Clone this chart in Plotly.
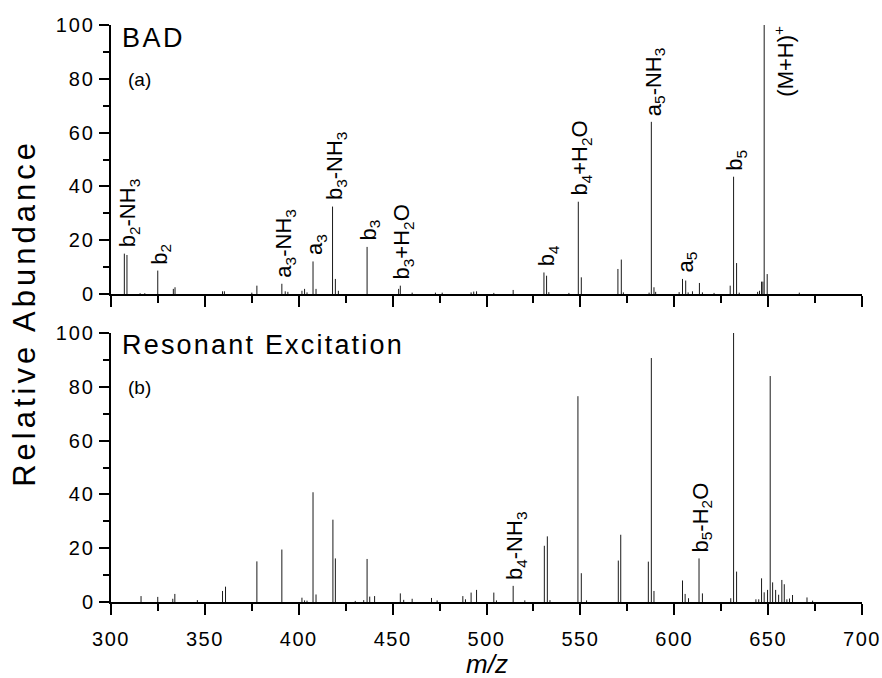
import plotly.graph_objects as go

# ---------------- data ----------------
# Panel (a): BAD spectrum  (m/z, relative abundance)
bad_mz = [307.1, 308.5, 315.5, 318.0, 324.9, 333.2, 334.1, 359.4, 360.4, 375.0,
          377.7, 391.0, 392.8, 394.2, 401.7, 403.1, 404.4, 407.6, 409.2, 418.0,
          419.5, 421.1, 436.4, 453.2, 454.1, 460.4, 472.8, 476.4, 491.8, 493.2,
          494.7, 503.9, 514.2, 530.6, 532.0, 533.2, 543.9, 548.9, 550.5, 570.0,
          571.8, 572.9, 586.6, 587.8, 589.2, 590.1, 602.6, 604.4, 606.1, 607.4,
          609.7, 613.4, 615.0, 621.2, 629.8, 631.6, 633.2, 634.6, 644.4, 645.4,
          646.5, 647.2, 647.9, 649.5, 666.6]
bad_int = [15.0, 14.5, 0.3, 0.3, 8.7, 1.9, 2.5, 1.0, 1.0, 0.5,
           3.1, 3.8, 1.0, 0.8, 1.2, 1.9, 0.6, 12.1, 1.9, 32.5,
           5.6, 1.2, 17.5, 1.9, 3.1, 0.5, 0.5, 0.5, 0.6, 0.9,
           1.0, 0.4, 1.5, 8.0, 6.8, 0.7, 0.4, 34.3, 6.2, 9.3,
           12.8, 0.6, 0.5, 64.0, 2.5, 0.8, 0.7, 5.6, 5.0, 0.6,
           1.0, 4.1, 0.6, 0.4, 3.1, 43.6, 11.5, 0.5, 0.8, 1.2,
           4.6, 4.6, 100.0, 7.4, 0.5]

# Panel (b): Resonant excitation spectrum
re_mz = [316.0, 324.9, 332.9, 334.0, 346.0, 359.4, 361.0, 377.7, 391.0, 401.7,
         403.1, 404.4, 407.6, 409.2, 418.2, 419.5, 430.1, 434.6, 436.4, 437.8,
         440.4, 454.1, 455.9, 460.4, 470.7, 473.7, 487.4, 488.8, 491.8, 494.7,
         503.9, 505.3, 514.2, 520.4, 530.8, 532.4, 533.8, 548.7, 550.5, 553.3,
         570.2, 571.5, 586.2, 587.8, 589.2, 604.4, 605.8, 607.6, 613.2, 615.0,
         630.1, 631.6, 633.2, 643.5, 645.0, 646.5, 647.9, 649.7, 651.1, 652.4,
         654.0, 655.6, 657.3, 658.6, 660.0, 661.4, 663.0, 670.7, 673.7]
re_int = [2.2, 1.9, 1.2, 3.0, 0.7, 4.1, 5.7, 15.1, 19.5, 1.6,
          0.6, 0.5, 40.8, 2.8, 30.6, 16.2, 0.4, 0.7, 16.0, 2.0,
          2.2, 3.2, 0.8, 1.2, 1.5, 0.6, 2.2, 1.0, 3.5, 4.5,
          3.5, 0.6, 6.0, 0.6, 20.9, 24.4, 0.7, 76.5, 10.7, 0.6,
          15.4, 25.0, 15.0, 90.7, 4.1, 8.0, 3.0, 1.4, 16.2, 3.2,
          1.4, 100.0, 11.3, 1.0, 1.0, 8.8, 3.6, 4.5, 84.0, 7.3,
          4.5, 2.7, 8.2, 6.6, 1.0, 1.3, 2.6, 1.7, 0.5]

# Peak labels: (text, m/z of labelled peak(s), intensity of labelled peak)
bad_labels = [
    ("b<sub>2</sub>-NH<sub>3</sub>", 307.8, 15.0),
    ("b<sub>2</sub>", 324.9, 8.7),
    ("a<sub>3</sub>-NH<sub>3</sub>", 391.0, 3.8),
    ("a<sub>3</sub>", 407.6, 12.1),
    ("b<sub>3</sub>-NH<sub>3</sub>", 418.0, 32.5),
    ("b<sub>3</sub>", 436.4, 17.5),
    ("b<sub>3</sub>+H<sub>2</sub>O", 454.1, 3.1),
    ("b<sub>4</sub>", 531.3, 8.0),
    ("b<sub>4</sub>+H<sub>2</sub>O", 548.9, 34.3),
    ("a<sub>5</sub>-NH<sub>3</sub>", 587.8, 64.0),
    ("a<sub>5</sub>", 605.2, 5.6),
    ("b<sub>5</sub>", 631.6, 43.6),
]
re_labels = [
    ("b<sub>4</sub>-NH<sub>3</sub>", 514.2, 6.0),
    ("b<sub>5</sub>-H<sub>2</sub>O", 613.2, 16.2),
]
parent_label = ("(M+H)<sup>+</sup>", 647.9, 100.0)

x_ticks = [300, 350, 400, 450, 500, 550, 600, 650, 700]
y_ticks = [0, 20, 40, 60, 80, 100]

# ---------------- figure ----------------
FONT = "Liberation Sans, Arial, Helvetica, sans-serif"


def sticks(mz, inten):
    xs, ys = [], []
    for m, v in zip(mz, inten):
        xs += [m, m, None]
        ys += [0, v, None]
    return xs, ys


fig = go.Figure()
for (mz, inten), (xa, ya) in [((bad_mz, bad_int), ("x", "y")),
                              ((re_mz, re_int), ("x2", "y2"))]:
    xs, ys = sticks(mz, inten)
    fig.add_trace(go.Scatter(x=xs, y=ys, mode="lines", xaxis=xa, yaxis=ya,
                             line=dict(color="#1a1a1a", width=1),
                             hoverinfo="skip", showlegend=False))


def spaced(s, px):
    return f'<span style="letter-spacing:{px}px">{s}</span>'


tick_font = dict(family=FONT, size=20, color="black")
common_x = dict(range=[300, 700], tickvals=x_ticks,
                ticktext=[spaced(str(t), 1.5) for t in x_ticks],
                ticks="outside", ticklen=11, tickwidth=2, tickcolor="black",
                showline=True, linewidth=2, linecolor="black",
                showgrid=False, zeroline=False, tickfont=tick_font,
                minor=dict(dtick=25, ticks="outside", ticklen=7, tickwidth=2,
                           tickcolor="black", showgrid=False),
                ticklabelstandoff=7, ticklabeloverflow="allow",
                fixedrange=True, automargin=False)
common_y = dict(range=[0, 100], tickvals=y_ticks,
                ticktext=[spaced(str(t), 2) for t in y_ticks],
                ticks="outside", ticklen=10, tickwidth=2, tickcolor="black",
                showline=True, linewidth=2, linecolor="black",
                showgrid=False, zeroline=False, tickfont=tick_font,
                minor=dict(dtick=10, ticks="outside", ticklen=6, tickwidth=2,
                           tickcolor="black", showgrid=False),
                ticklabelstandoff=0, fixedrange=True, automargin=False)

fig.update_layout(
    width=882, height=678,
    margin=dict(l=111, r=20, t=25, b=76),
    paper_bgcolor="white", plot_bgcolor="white",
    font=dict(family=FONT, color="black"),
    xaxis=dict(**{**common_x, "showticklabels": False}, anchor="y"),
    yaxis=dict(**common_y, domain=[0.5338, 1.0], anchor="x"),
    xaxis2=dict(**common_x, anchor="y2"),
    yaxis2=dict(**common_y, domain=[0.0, 0.4662], anchor="x2"),
)

ann = []
lab_font = dict(family=FONT, size=22, color="black")
for labels, xr, yr in [(bad_labels, "x", "y"), (re_labels, "x2", "y2")]:
    for text, m, v in labels:
        ann.append(dict(x=m, y=v, xref=xr, yref=yr, text=text, textangle=-90,
                        showarrow=False, xanchor="center", yanchor="bottom",
                        xshift=3, yshift=4, font=lab_font))
t, m, v = parent_label
ann.append(dict(x=m, y=v, xref="x", yref="y", text=t, textangle=-90,
                showarrow=False, xanchor="left", yanchor="top",
                xshift=3, yshift=1, font=lab_font))

title_font = dict(family=FONT, size=27, color="black")
ann += [
    dict(x=0.012, y=0.9775, xref="paper", yref="paper", text=spaced("BAD", 2.5),
         showarrow=False, xanchor="left", yanchor="middle", font=title_font),
    dict(x=0.038, y=0.9047, xref="paper", yref="paper", text="(a)",
         showarrow=False, xanchor="center", yanchor="middle",
         font=dict(family=FONT, size=19, color="black")),
    dict(x=0.012, y=0.4454, xref="paper", yref="paper",
         text=spaced("Resonant Excitation", 2.2),
         showarrow=False, xanchor="left", yanchor="middle", font=title_font),
    dict(x=0.038, y=0.3709, xref="paper", yref="paper", text="(b)",
         showarrow=False, xanchor="center", yanchor="middle",
         font=dict(family=FONT, size=19, color="black")),
    dict(x=-0.1147, y=0.5009, xref="paper", yref="paper",
         text=spaced("Relative Abundance", 4), textangle=-90,
         showarrow=False, xanchor="center", yanchor="middle",
         font=dict(family=FONT, size=31, color="black")),
    dict(x=0.5, y=-0.107, xref="paper", yref="paper", text="<i>m/z</i>",
         showarrow=False, xanchor="center", yanchor="middle",
         font=dict(family=FONT, size=26, color="black")),
]
fig.update_layout(annotations=ann)

# Remove the browser's default 8px body margin so the figure fills the window.
fig.write_html("out.html", config={"displayModeBar": False},
               post_script="document.body.style.margin='0';")
